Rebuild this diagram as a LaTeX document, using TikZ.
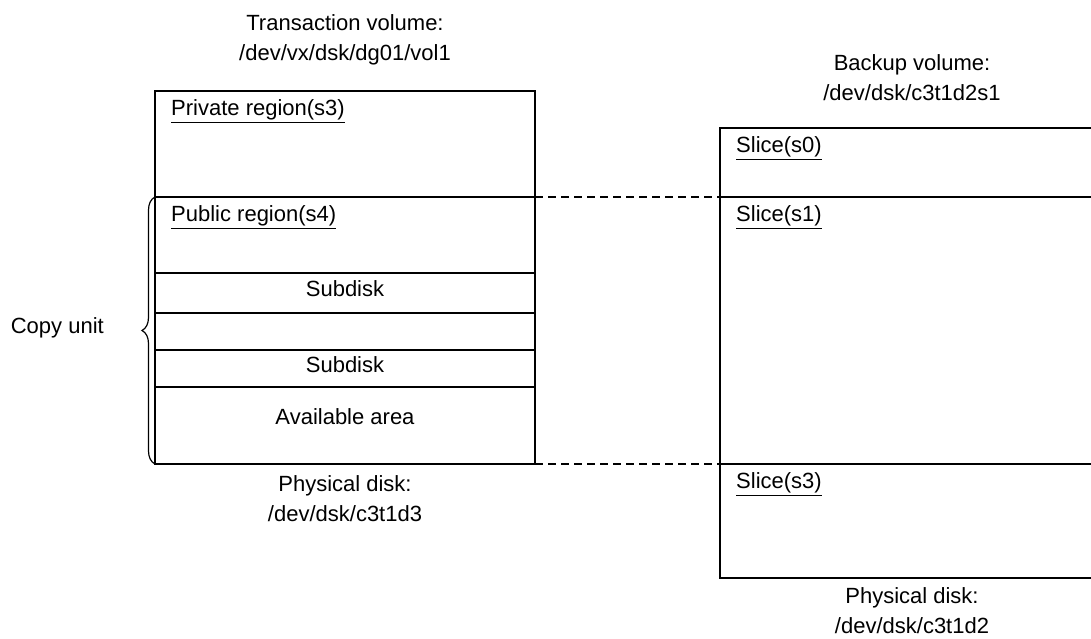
\documentclass[tikz,border=0pt]{standalone}
\usepackage{fontspec}
\setmainfont{Liberation Sans}
\usetikzlibrary{positioning,decorations.pathreplacing}

\begin{document}
\begin{tikzpicture}[x=1pt, y=-1pt,
  every node/.style={font=\fontsize{22}{30}\selectfont},
  part/.style={draw, line width=1.6pt, inner sep=0pt, outer sep=0pt, anchor=north west},
  tag/.style={inner sep=0pt},
  uline/.style={line width=1.6pt},
  link/.style={line width=1.6pt, dash pattern=on 8pt off 5pt},
  copybrace/.style={decorate, decoration={brace, amplitude=13pt}, line width=1.2pt}]

\clip (0,0) rectangle (1091,639);

% transaction volume and backup volume
\foreach \ya/\yb [count=\i] in {91/197, 197/273, 273/313, 313/350, 350/387, 387/464}
  \node [part, minimum width=380pt, minimum height={(\yb-\ya)*1pt}] (trans-\i) at (155,\ya) {};

\foreach \ya/\yb [count=\i] in {128/197, 197/464, 464/578}
  \node [part, minimum width=384pt, minimum height={(\yb-\ya)*1pt}] (bkp-\i) at (720,\ya) {};

% underlined region names
\foreach \p/\l in {trans-1/Private region(s3), trans-2/Public region(s4),
                   bkp-1/Slice(s0), bkp-2/Slice(s1), bkp-3/Slice(s3)}
{
  \node [tag, anchor=north west] (\p-tag) at ([xshift=16pt, yshift=-8pt]\p.north west) {\l};
  \draw [uline] ([yshift=-2.5pt]\p-tag.south west) -- ([yshift=-2.5pt]\p-tag.south east);
}

\node [tag] (sub-1) at ([yshift=4pt]trans-3.center) {Subdisk};
\node [tag] (sub-2) at ([yshift=4pt]trans-5.center) {Subdisk};
\node [tag] (avail) at ([yshift=9pt]trans-6.center) {Available area};

\draw [link] (trans-2.north east) -- (bkp-2.north west);
\draw [link] (trans-6.south east) -- (bkp-3.north west);

\draw [copybrace] (trans-6.south west) -- (trans-2.north west);
\node [tag, anchor=east] (copy) at (104,328) {Copy unit};

\node [tag, align=center, above=26pt of trans-1] (trans-title) {Transaction volume:\\/dev/vx/dsk/dg01/vol1};
\node [tag, align=center, above=27pt of bkp-1] (bkp-title) {Backup volume:\\/dev/dsk/c3t1d2s1};
\node [tag, align=center, below=11pt of trans-6] (trans-disk) {Physical disk:\\/dev/dsk/c3t1d3};
\node [tag, align=center, below=9pt of bkp-3] (bkp-disk) {Physical disk:\\/dev/dsk/c3t1d2};

\end{tikzpicture}
\end{document}
